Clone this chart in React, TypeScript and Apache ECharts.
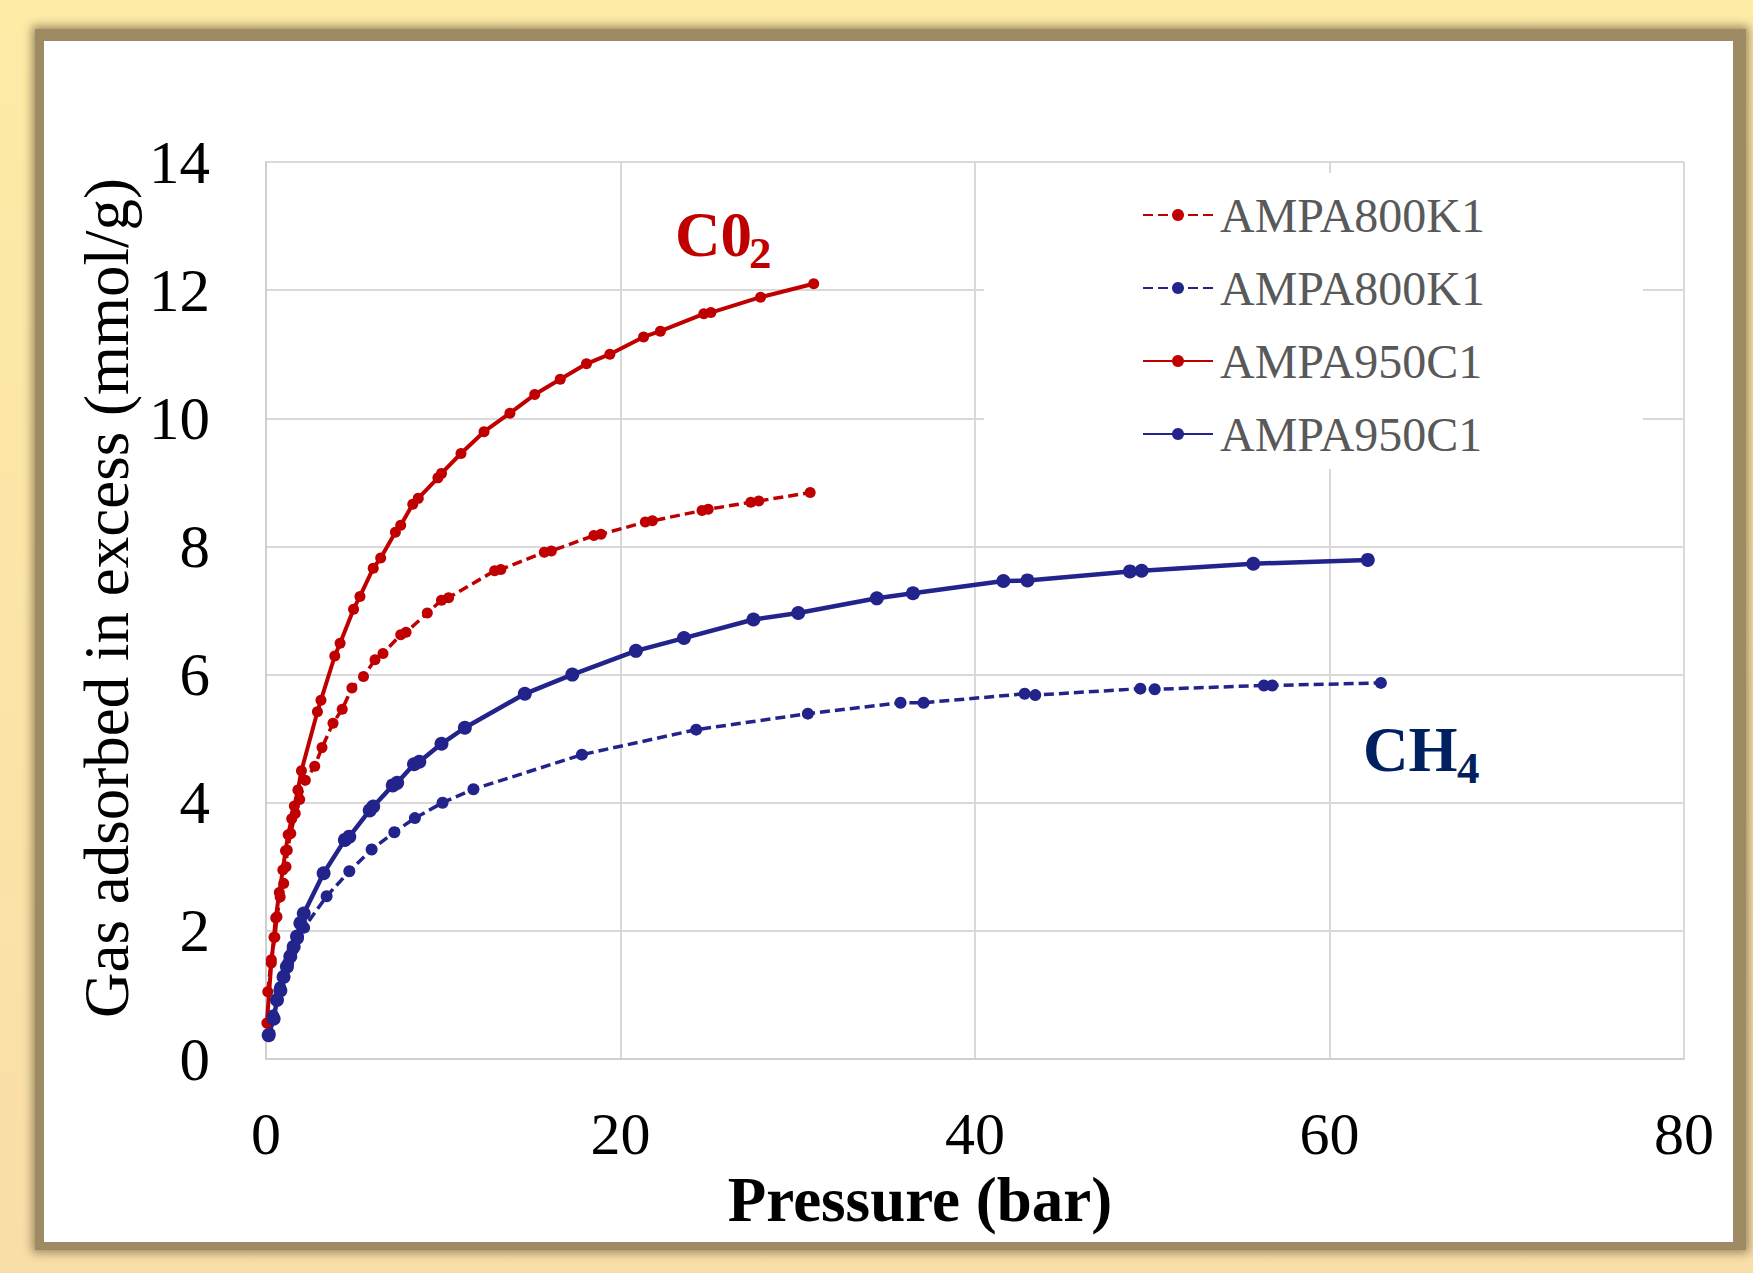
import React, { useEffect, useRef } from "react";
import * as echarts from "echarts";

// ---- data (pressure bar, excess mmol/g) ----
const xTicks = [0, 20, 40, 60, 80];
const yTicks = [0, 2, 4, 6, 8, 10, 12, 14];

const co2_800K1: number[][] = [
  [0.1, 1.05], [0.3, 1.55], [0.5, 1.9], [0.62, 2.22], [0.8, 2.53], [1.0, 2.74], [1.13, 3.0],
  [1.2, 3.26], [1.4, 3.52], [1.65, 3.83], [1.9, 4.05], [2.22, 4.35], [2.75, 4.57], [3.16, 4.86],
  [3.78, 5.24], [4.3, 5.46], [4.85, 5.79], [5.5, 5.97], [6.15, 6.23], [6.6, 6.33], [7.6, 6.62],
  [7.9, 6.66], [9.1, 6.96], [9.9, 7.16], [10.3, 7.2], [12.9, 7.62], [13.25, 7.64], [15.7, 7.91],
  [16.1, 7.93], [18.5, 8.17], [18.9, 8.19], [21.4, 8.38], [21.8, 8.4], [24.6, 8.56], [24.95, 8.58],
  [27.35, 8.69], [27.8, 8.71], [30.7, 8.84],
];

const ch4_800K1: number[][] = [
  [0.2, 0.4], [0.4, 0.68], [0.6, 0.92], [0.8, 1.12], [1.0, 1.3], [1.25, 1.5], [1.5, 1.7],
  [1.8, 1.88], [2.15, 2.05], [3.42, 2.54], [4.7, 2.93], [5.96, 3.27], [7.24, 3.54], [8.4, 3.76],
  [9.96, 4.0], [11.7, 4.21], [17.82, 4.75], [24.27, 5.14], [30.57, 5.39], [35.8, 5.56],
  [37.1, 5.56], [42.8, 5.7], [43.4, 5.68], [49.33, 5.78], [50.14, 5.77], [56.3, 5.83],
  [56.77, 5.83], [62.9, 5.87],
];

const co2_950C1: number[][] = [
  [0.05, 0.56], [0.3, 1.5], [0.45, 1.9], [0.55, 2.2], [0.75, 2.6], [0.95, 2.95], [1.1, 3.25],
  [1.25, 3.5], [1.45, 3.75], [1.6, 3.95], [1.8, 4.2], [2.0, 4.5], [2.9, 5.42], [3.1, 5.6],
  [3.88, 6.29], [4.18, 6.49], [4.94, 7.02], [5.3, 7.22], [6.05, 7.66], [6.47, 7.82], [7.3, 8.22],
  [7.6, 8.33], [8.28, 8.66], [8.59, 8.75], [9.7, 9.07], [9.9, 9.14], [11.0, 9.45], [12.3, 9.79],
  [13.76, 10.08], [15.16, 10.37], [16.6, 10.61], [18.08, 10.85], [19.4, 11.0], [21.3, 11.27],
  [22.25, 11.36], [24.7, 11.63], [25.1, 11.65], [27.9, 11.89], [30.9, 12.1],
];

const ch4_950C1: number[][] = [
  [0.15, 0.37], [0.43, 0.63], [0.62, 0.92], [0.81, 1.07], [0.99, 1.28], [1.18, 1.44], [1.37, 1.6],
  [1.56, 1.75], [1.75, 1.91], [1.94, 2.12], [2.13, 2.27], [3.25, 2.9], [4.45, 3.42], [4.7, 3.47],
  [5.85, 3.88], [6.05, 3.94], [7.15, 4.27], [7.4, 4.31], [8.35, 4.6], [8.65, 4.64], [9.9, 4.92],
  [11.22, 5.17], [14.6, 5.7], [17.28, 6.0], [20.87, 6.37], [23.58, 6.57], [27.5, 6.86],
  [30.03, 6.96], [34.46, 7.19], [36.5, 7.27], [41.6, 7.46], [42.96, 7.47], [48.74, 7.61],
  [49.4, 7.62], [55.7, 7.73], [62.16, 7.79],
];

const seriesNames = [
  "AMPA800K1 (CO2)",
  "AMPA800K1 (CH4)",
  "AMPA950C1 (CO2)",
  "AMPA950C1 (CH4)",
];

const RED = "#C00000";
const BLUE = "#23238C";
const NAVY = "#002060";
const FONT = "'Liberation Serif', 'Times New Roman', serif";

export default function App() {
  const ref = useRef<HTMLDivElement>(null);

  useEffect(() => {
    if (!ref.current) return;
    const chart = echarts.init(ref.current, undefined, { renderer: "svg" });
    const mk = (name: string, data: number[][], color: string, dashed: boolean, size: number, width: number) => ({
      name,
      type: "line",
      data,
      symbol: "circle",
      symbolSize: size,
      showSymbol: true,
      itemStyle: { color },
      lineStyle: { color, width, type: dashed ? [10, 5] : "solid" },
      emphasis: { disabled: true },
    });
    chart.setOption({
      animation: false,
      backgroundColor: "transparent",
      grid: { left: 266, top: 162, right: 69, bottom: 214, containLabel: false },
      xAxis: {
        type: "value",
        min: xTicks[0],
        max: xTicks[xTicks.length - 1],
        interval: 20,
        name: "Pressure (bar)",
        nameLocation: "middle",
        nameGap: 95,
        nameTextStyle: {
          fontFamily: FONT,
          fontSize: 63,
          fontWeight: "bold",
          color: "#000",
          lineHeight: 63,
          padding: [0, 110, 0, 0],
        },
        axisLine: { show: true, lineStyle: { color: "#cfcfcf", width: 2 } },
        axisTick: { show: false },
        axisLabel: { fontFamily: FONT, fontSize: 60, lineHeight: 60, color: "#000", margin: 45 },
        splitLine: { show: true, lineStyle: { color: "#d9d9d9", width: 2 } },
      },
      yAxis: {
        type: "value",
        min: yTicks[0],
        max: yTicks[yTicks.length - 1],
        interval: 2,
        name: "Gas adsorbed in excess (mmol/g)",
        nameLocation: "middle",
        nameGap: 122,
        nameTextStyle: {
          fontFamily: FONT,
          fontSize: 63,
          color: "#000",
          lineHeight: 63,
          padding: [0, 0, 0, 25],
        },
        axisLine: { show: true, lineStyle: { color: "#cfcfcf", width: 2 } },
        axisTick: { show: false },
        axisLabel: { fontFamily: FONT, fontSize: 61, lineHeight: 61, color: "#000", margin: 56 },
        splitLine: { show: true, lineStyle: { color: "#d9d9d9", width: 2 } },
      },
      legend: {
        orient: "vertical",
        left: 984,
        top: 173,
        padding: [18, 158, 11, 158],
        backgroundColor: "#ffffff",
        itemWidth: 70,
        itemHeight: 15,
        itemGap: 25,
        data: seriesNames,
        formatter: (n: string) => n.replace(/ \(C.*\)$/, ""),
        textStyle: { fontFamily: FONT, fontSize: 48, lineHeight: 48, color: "#595959", padding: [0, 0, 0, 2] },
      },
      series: [
        mk(seriesNames[0], co2_800K1, RED, true, 11, 3.5),
        mk(seriesNames[1], ch4_800K1, BLUE, true, 12, 3.5),
        mk(seriesNames[2], co2_950C1, RED, false, 11, 4),
        mk(seriesNames[3], ch4_950C1, BLUE, false, 14, 4.5),
      ],
      graphic: [
        {
          type: "text",
          left: 675,
          top: 203,
          z: 100,
          style: { text: "C0", fill: RED, font: `bold 63px ${FONT}` },
        },
        {
          type: "text",
          left: 749,
          top: 230,
          z: 100,
          style: { text: "2", fill: RED, font: `bold 45px ${FONT}` },
        },
        {
          type: "text",
          left: 1363,
          top: 718,
          z: 100,
          style: { text: "CH", fill: NAVY, font: `bold 63px ${FONT}` },
        },
        {
          type: "text",
          left: 1457,
          top: 745,
          z: 100,
          style: { text: "4", fill: NAVY, font: `bold 45px ${FONT}` },
        },
      ],
    });
    return () => chart.dispose();
  }, []);

  return (
    <div
      style={{
        position: "fixed",
        left: 0,
        top: 0,
        width: 1753,
        height: 1273,
        background: "linear-gradient(#fdeba6, #f9dea8)",
        overflow: "hidden",
      }}
    >
      <div
        style={{
          position: "absolute",
          left: 35,
          top: 29,
          width: 1711,
          height: 1221,
          background: "#9e8b63",
          boxShadow: "0 0 9px 3px #9e8b63",
        }}
      />
      <div
        style={{
          position: "absolute",
          left: 44,
          top: 41,
          width: 1689,
          height: 1201,
          background: "#ffffff",
        }}
      />
      <div ref={ref} style={{ position: "absolute", left: 0, top: 0, width: 1753, height: 1273 }} />
    </div>
  );
}
